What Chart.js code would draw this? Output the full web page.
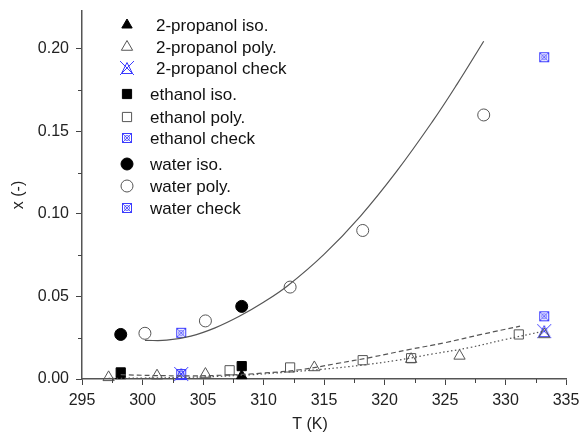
<!DOCTYPE html>
<html>
<head>
<meta charset="utf-8">
<script src="https://cdn.jsdelivr.net/npm/chart.js@4.4.1/dist/chart.umd.min.js"></script>
<style>
  body { margin: 0; background: #fff; }
</style>
</head>
<body>
<canvas id="chart" width="579" height="432"></canvas>
<script>
// measured points, T in K, x in (-)
const propIsoT = [298.2, 308.2];
const propIsoX = [0.002, 0.002];
const propPolyT = [297.2, 301.2, 305.2, 314.2, 322.2, 326.2, 333.2];
const propPolyX = [0.001, 0.002, 0.003, 0.007, 0.012, 0.014, 0.027];
const propCheckT = [303.2, 333.2];
const propCheckX = [0.003, 0.029];

const ethIsoT = [298.2, 308.2];
const ethIsoX = [0.004, 0.0078];
const ethPolyT = [307.2, 312.2, 318.2, 322.2, 331.1];
const ethPolyX = [0.0053, 0.007, 0.0114, 0.0126, 0.027];
const ethCheckT = [303.2, 333.2];
const ethCheckX = [0.003, 0.038];

const watIsoT = [298.2, 308.2];
const watIsoX = [0.027, 0.044];
const watPolyT = [300.2, 305.2, 312.2, 318.2, 328.2];
const watPolyX = [0.0277, 0.0352, 0.0557, 0.090, 0.160];
const watCheckT = [303.2, 333.2];
const watCheckX = [0.028, 0.195];

// fitted curves
const watFitT = [300.2, 302, 304, 306, 308, 310, 312, 315, 318, 321, 324, 326, 328.2];
const watFitX = [0.0234, 0.0235, 0.026, 0.031, 0.038, 0.0465, 0.0565, 0.0755, 0.0986, 0.1258, 0.1564, 0.1787, 0.2047];
const ethFitT = [298.2, 301, 304, 307, 310, 313, 316, 319, 322, 325, 328, 331.2];
const ethFitX = [0.0026, 0.0021, 0.0019, 0.0024, 0.0036, 0.0056, 0.0093, 0.0133, 0.0178, 0.022, 0.027, 0.032];
const propFitT = [297.2, 300, 303, 306, 309, 312, 315, 318, 321, 324, 327, 330, 333.2];
const propFitX = [0.0004, 0.0006, 0.0009, 0.0015, 0.0026, 0.0042, 0.006, 0.0083, 0.0113, 0.0152, 0.019, 0.024, 0.029];

const xTicks = [295, 300, 305, 310, 315, 320, 325, 330, 335];
const yTicks = [0, 0.05, 0.10, 0.15, 0.20];

const BLUE = '#3b3bff';
const GREY = '#555';
const FONT = '"Liberation Sans", Arial, sans-serif';

function pts(t, x) {
  return t.map((v, i) => ({ x: v, y: x[i] }));
}

// composite markers for the "check" series
function marker(size, draw) {
  const c = document.createElement('canvas');
  c.width = size; c.height = size;
  const g = c.getContext('2d');
  g.strokeStyle = BLUE;
  g.lineWidth = 1;
  draw(g, size);
  return c;
}
const triCross = marker(16, (g, s) => {
  g.beginPath();
  g.moveTo(s / 2, 2.5); g.lineTo(s - 2.5, s - 2.5); g.lineTo(2.5, s - 2.5); g.closePath();
  g.moveTo(1, 1); g.lineTo(s - 1, s - 1);
  g.moveTo(s - 1, 1); g.lineTo(1, s - 1);
  g.stroke();
});
const boxCross = marker(12, (g, s) => {
  g.strokeRect(1.5, 1.5, s - 3, s - 3);
  g.lineWidth = 0.8;
  g.beginPath();
  g.moveTo(2, 2); g.lineTo(s - 2, s - 2);
  g.moveTo(s - 2, 2); g.lineTo(2, s - 2);
  g.moveTo(s / 2 + 2.5, s / 2); g.arc(s / 2, s / 2, 2.5, 0, Math.PI * 2);
  g.stroke();
});

function scatterSet(label, t, x, style, radius, fill, stroke) {
  return {
    label: label,
    data: pts(t, x),
    showLine: false,
    pointStyle: style,
    pointRadius: radius,
    pointHoverRadius: radius,
    pointBackgroundColor: fill,
    pointBorderColor: stroke,
    pointBorderWidth: 1,
    clip: false
  };
}
function fitSet(label, t, x, dash, width) {
  return {
    label: label,
    data: pts(t, x),
    showLine: true,
    borderColor: GREY,
    borderWidth: width,
    borderDash: dash,
    pointRadius: 0,
    tension: 0.4,
    fill: false
  };
}

const datasets = [
  fitSet('water fit', watFitT, watFitX, [], 1.2),
  fitSet('ethanol fit', ethFitT, ethFitX, [5, 3], 1.2),
  fitSet('2-propanol fit', propFitT, propFitX, [1.5, 2.5], 1.2),
  scatterSet('2-propanol iso.', propIsoT, propIsoX, 'triangle', 6, '#000', '#000'),
  scatterSet('2-propanol poly.', propPolyT, propPolyX, 'triangle', 6.5, 'rgba(0,0,0,0)', GREY),
  scatterSet('2-propanol check', propCheckT, propCheckX, triCross, 8, BLUE, BLUE),
  scatterSet('ethanol iso.', ethIsoT, ethIsoX, 'rect', 6.5, '#000', '#000'),
  scatterSet('ethanol poly.', ethPolyT, ethPolyX, 'rect', 6.5, 'rgba(0,0,0,0)', GREY),
  scatterSet('ethanol check', ethCheckT, ethCheckX, boxCross, 6, BLUE, BLUE),
  scatterSet('water iso.', watIsoT, watIsoX, 'circle', 6, '#000', '#000'),
  scatterSet('water poly.', watPolyT, watPolyX, 'circle', 6, 'rgba(0,0,0,0)', GREY),
  scatterSet('water check', watCheckT, watCheckX, boxCross, 6, BLUE, BLUE)
];

// legend drawn inside the plot, rows as in the original
const legendRows = [
  { ds: 3, y: 25, tx: 156 }, { ds: 4, y: 47, tx: 156 }, { ds: 5, y: 68, tx: 156 },
  { ds: 6, y: 94, tx: 150 }, { ds: 7, y: 117, tx: 150 }, { ds: 8, y: 138, tx: 150 },
  { ds: 9, y: 164, tx: 150 }, { ds: 10, y: 186, tx: 150 }, { ds: 11, y: 208, tx: 150 }
];
const innerLegend = {
  id: 'innerLegend',
  afterDraw(chart) {
    const ctx = chart.ctx;
    ctx.save();
    ctx.font = '17px ' + FONT;
    ctx.textBaseline = 'middle';
    legendRows.forEach(r => {
      const d = chart.data.datasets[r.ds];
      ctx.fillStyle = d.pointBackgroundColor;
      ctx.strokeStyle = d.pointBorderColor;
      ctx.lineWidth = 1;
      Chart.helpers.drawPoint(ctx, {
        pointStyle: d.pointStyle, radius: d.pointRadius, rotation: 0, borderWidth: 1
      }, 127, r.y);
      ctx.fillStyle = '#111';
      ctx.fillText(d.label, r.tx, r.y + 1);
    });
    // x axis title sits a little left of centre in the original
    ctx.font = '16px ' + FONT;
    ctx.textAlign = 'center';
    ctx.fillStyle = '#222';
    ctx.fillText('T (K)', 310, 425);
    ctx.restore();
  }
};

// minor ticks between the labelled ones
const minorTicks = {
  id: 'minorTicks',
  afterDraw(chart) {
    const ctx = chart.ctx;
    const xs = chart.scales.x, ys = chart.scales.y;
    ctx.save();
    ctx.strokeStyle = '#444';
    ctx.lineWidth = 1;
    ctx.beginPath();
    for (let i = 0; i < xTicks.length - 1; i++) {
      const px = Math.round(xs.getPixelForValue((xTicks[i] + xTicks[i + 1]) / 2)) + 0.5;
      ctx.moveTo(px, ys.bottom);
      ctx.lineTo(px, ys.bottom + 4);
    }
    for (let i = 0; i < yTicks.length - 1; i++) {
      const py = Math.round(ys.getPixelForValue((yTicks[i] + yTicks[i + 1]) / 2)) + 0.5;
      ctx.moveTo(xs.left, py);
      ctx.lineTo(xs.left - 4, py);
    }
    ctx.stroke();
    ctx.restore();
  }
};

const tickFont = { family: FONT, size: 16 };

new Chart(document.getElementById('chart'), {
  type: 'scatter',
  data: { datasets: datasets },
  options: {
    responsive: false,
    animation: false,
    layout: { padding: { top: 11, right: 13, left: 0, bottom: 0 } },
    plugins: {
      legend: { display: false },
      tooltip: { enabled: false }
    },
    scales: {
      x: {
        type: 'linear',
        min: 295,
        max: 335,
        afterBuildTicks: s => { s.ticks = xTicks.map(v => ({ value: v })); },
        ticks: { font: tickFont, color: '#222', padding: 6, maxRotation: 0 },
        grid: { drawOnChartArea: false, tickLength: 6, tickColor: '#444' },
        border: { color: '#555', width: 1.5 },
        afterFit: s => { s.height = 53; s.paddingLeft = 0; s.paddingRight = 0; }
      },
      y: {
        type: 'linear',
        min: 0,
        max: 0.223,
        afterBuildTicks: s => { s.ticks = yTicks.map(v => ({ value: v })); },
        ticks: { font: tickFont, color: '#222', padding: 7, callback: v => v.toFixed(2) },
        grid: { drawOnChartArea: false, tickLength: 6, tickColor: '#444' },
        border: { color: '#555', width: 1.5 },
        title: { display: true, text: 'x (-)', font: tickFont, color: '#222', padding: { bottom: 0, top: 9 } },
        afterFit: s => { s.width = 82; s.paddingTop = 0; s.paddingBottom = 0; }
      }
    }
  },
  plugins: [innerLegend, minorTicks]
});
</script>
</body>
</html>
